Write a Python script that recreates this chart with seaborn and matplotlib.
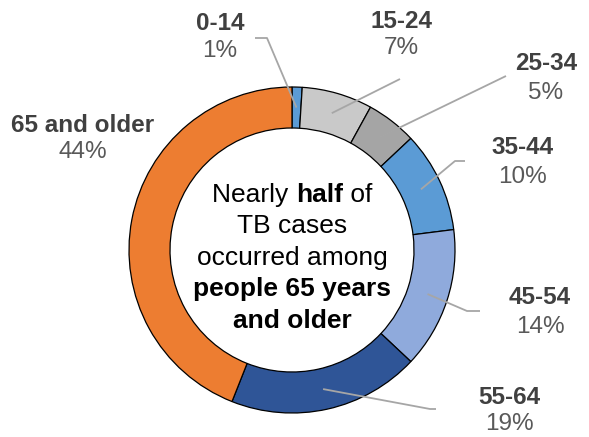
import numpy as np
import matplotlib
matplotlib.use("Agg")
import matplotlib.pyplot as plt
import seaborn as sns

sns.set_theme(style="white")
plt.rcParams['font.family'] = ['Liberation Sans', 'DejaVu Sans']

# ---- data ----
age_groups = ["0-14", "15-24", "25-34", "35-44", "45-54", "55-64", "65 and older"]
percents = [1, 7, 5, 10, 14, 19, 44]
colors = ["#5B9BD5", "#C9C9C9", "#A5A5A5", "#5B9BD5", "#8FAADC", "#2F5597", "#ED7D31"]

W, H = 589, 437
fig = plt.figure(figsize=(W / 100, H / 100), dpi=100)
ax = fig.add_axes([0, 0, 1, 1])
ax.set_xlim(0, W)
ax.set_ylim(0, H)
ax.set_aspect("equal")
ax.axis("off")

def P(x, y):
    return x, H - y

cx, cy = 292, 250
R = 163
ring = 41
ax.pie(percents, colors=colors, startangle=90, counterclock=False,
       center=P(cx, cy), radius=R, frame=True,
       wedgeprops=dict(width=ring, edgecolor="black", linewidth=0.9))
ax.set_xlim(0, W)
ax.set_ylim(0, H)
ax.axis("off")

# label layout (pixel positions)
label_pos = {
    "0-14": (220, 23, 51),
    "15-24": (401, 21, 48),
    "25-34": (546, 64, 93),
    "35-44": (523, 148, 177),
    "45-54": (540, 298, 327),
    "55-64": (509, 397, 424),
    "65 and older": (83, 125, 152),
}
leader_pts = {
    "0-14": [(267, 38), (255, 38)],
    "15-24": [(400, 79)],
    "25-34": [(506, 76)],
    "35-44": [(455, 161), (465, 161)],
    "45-54": [(467, 311), (480, 311)],
    "55-64": [(430, 409), (436, 409)],
}

cum = np.cumsum([0] + percents)
rmid = R - ring / 2
for i, (g, p) in enumerate(zip(age_groups, percents)):
    frac = (cum[i] + p / 2) / cum[-1]
    ang = np.deg2rad(frac * 360)
    sx, sy = cx + rmid * np.sin(ang), cy - rmid * np.cos(ang)
    if g in leader_pts:
        pts = [(sx, sy)] + leader_pts[g]
        xs = [q[0] for q in pts]
        ys = [H - q[1] for q in pts]
        ax.plot(xs, ys, color="#A6A6A6", lw=1.3, solid_capstyle="butt")
    lx, ly1, ly2 = label_pos[g]
    ax.text(*P(lx, ly1), g, ha="center", va="center", fontsize=17.5,
            fontweight="bold", color="#404040")
    ax.text(*P(lx, ly2), f"{p}%", ha="center", va="center", fontsize=17.5,
            color="#595959")

# center text with mixed bold
fig.canvas.draw()
renderer = fig.canvas.get_renderer()
fs = 19
def mixed_line(parts, y):
    widths = []
    for txt, bold in parts:
        t = ax.text(0, 0, txt, fontsize=fs, fontweight="bold" if bold else "normal")
        bb = t.get_window_extent(renderer=renderer)
        widths.append(bb.width)
        t.remove()
    total = sum(widths)
    x0 = cx - total / 2
    for (txt, bold), w in zip(parts, widths):
        ax.text(*P(x0, y), txt, fontsize=fs, fontweight="bold" if bold else "normal",
                ha="left", va="center", color="black")
        x0 += w

mixed_line([("Nearly ", False), ("half", True), (" of", False)], 195)
mixed_line([("TB cases", False)], 226)
mixed_line([("occurred among", False)], 258)
mixed_line([("people 65 years", True)], 289)
mixed_line([("and older", True)], 321)

fig.savefig("out.png", dpi=100)
